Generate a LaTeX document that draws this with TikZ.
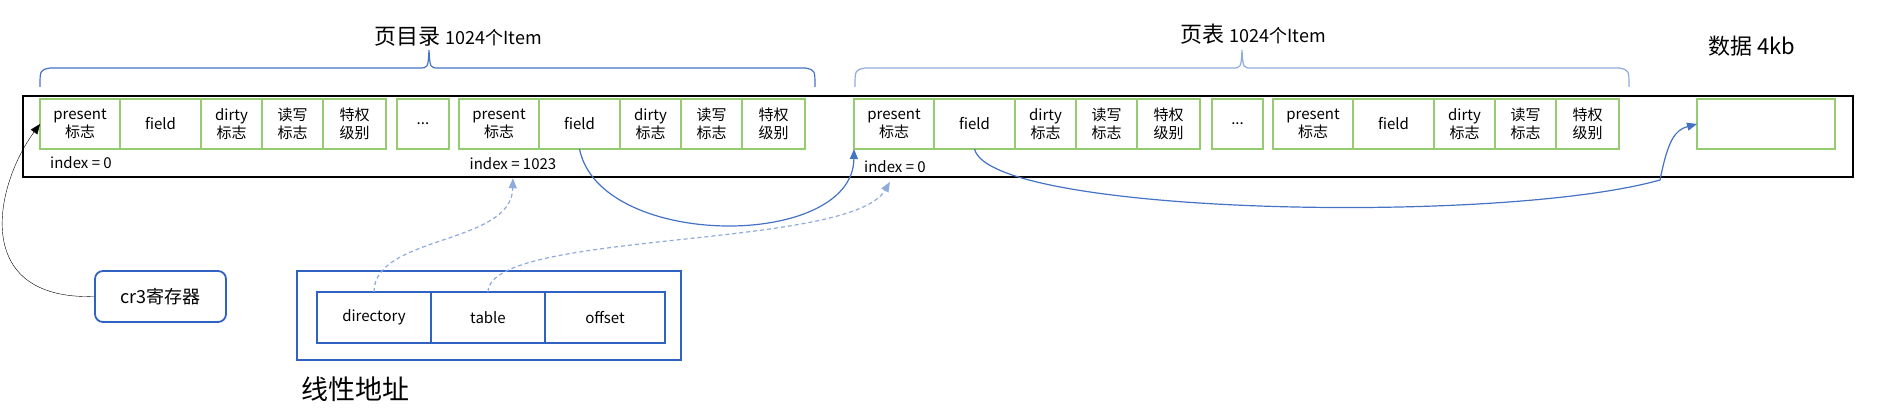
\documentclass[tikz,border=0pt]{standalone}
\usepackage{fontspec}
\setmainfont{Noto Sans CJK SC}
\usetikzlibrary{positioning}
\usetikzlibrary{arrows.meta}
\definecolor{cellgreen}{RGB}{150,204,112}
\definecolor{boxblue}{RGB}{47,98,194}
\definecolor{lineblue}{RGB}{68,114,196}
\definecolor{paleblue}{RGB}{143,170,220}

\begin{document}
\begin{tikzpicture}[x=1pt,y=-1pt,
  cell/.style={draw=cellgreen,line width=1.5pt,minimum height=50pt,inner sep=0pt,outer sep=0pt,align=center,font=\fontsize{15}{18}\selectfont},
  addr/.style={draw=boxblue,line width=1.8pt,minimum height=51pt,minimum width=114pt,inner sep=0pt,outer sep=0pt,font=\fontsize{15}{18}\selectfont},
  idx/.style={inner sep=0pt,font=\fontsize{15}{18}\selectfont},
  title/.style={inner sep=0pt,font=\fontsize{22}{26}\selectfont},
  tip/.style={-{Triangle[length=10pt,width=8pt]}},
  link/.style={tip,lineblue,line width=1.2pt},
  hint/.style={tip,paleblue,line width=1.2pt,dash pattern=on 4pt off 3pt}]
 \useasboundingbox (0,0) rectangle (1899,411);
 \draw[line width=2pt] (23,96) rectangle (1853,177);
 \foreach \g/\x in {a/40,b/459,c/854,d/1273}{
  \node[cell,minimum width=80pt,anchor=north west] (\g p) at (\x,99) {present\\标志};
  \node[cell,minimum width=81pt,right=0pt of \g p] (\g f) {field};
  \node[cell,minimum width=61pt,right=0pt of \g f] (\g d) {dirty\\标志};
  \node[cell,minimum width=61pt,right=0pt of \g d] (\g r) {读写\\标志};
  \node[cell,minimum width=63pt,right=0pt of \g r] (\g s) {特权\\级别};
 }
 \node[cell,minimum width=52pt,anchor=north west] (e1) at (397,99) {...};
 \node[cell,minimum width=51pt,anchor=north west] (e2) at (1212,99) {...};
 \node[cell,minimum width=138pt,anchor=north west] (data) at (1697,99) {};
 \node[idx] (ia) at (81,163) {index = 0};
 \node[idx] (ib) at (513,164) {index = 1023};
 \node[idx] (ic) at (895,167) {index = 0};
 \node[title] (t1) at (458,37) {页目录 {\fontsize{18}{22}\selectfont 1024个Item}};
 \node[title] (t2) at (1253,34) {页表 {\fontsize{18}{22}\selectfont 1024个Item}};
 \node[title] (t3) at (1752,46) {数据 4kb};
 \draw[lineblue,line width=1.2pt] (40,87) .. controls (40,70) .. (50,68) -- (419,68) .. controls (428,68) .. (429,50) .. controls (430,68) .. (439,68) -- (805,68) .. controls (815,70) .. (815,87);
 \draw[paleblue,line width=1.2pt] (855,87) .. controls (855,70) .. (865,68) -- (1232,68) .. controls (1241,68) .. (1242,50) .. controls (1243,68) .. (1252,68) -- (1619,68) .. controls (1629,70) .. (1629,87);
 \node[draw=boxblue,line width=1.8pt,rounded corners=8pt,minimum width=131pt,minimum height=51pt,font=\fontsize{18}{22}\selectfont] (cr3) at (160.5,296.5) {cr3寄存器};
 \node[draw=boxblue,line width=1.8pt,minimum width=384pt,minimum height=89pt] (la) at (489,315.5) {};
 \node[addr,anchor=north west] (dir) at (317,292) {directory};
 \node[addr,right=0pt of dir] (tab) {table};
 \node[addr,minimum width=120pt,right=0pt of tab] (off) {offset};
 \node[inner sep=0pt,font=\fontsize{27}{32}\selectfont] (lal) at (355,389) {线性地址};
 \draw[tip] (cr3.west) .. controls (-30,300) and (-5,185) .. (ap.west);
 \draw[link] (bf.south) .. controls (600,250) and (853,250) .. (cp.south west);
 \draw[link] (cf.south) .. controls (990,215) and (1500,225) .. (1660,180) .. controls (1668,140) and (1675,130) .. (data.west);
 \draw[hint,shorten >=8pt] (dir.north) .. controls (374,235) and (512,245) .. (ib.south);
 \draw[hint,shorten >=10pt] (tab.north) .. controls (489,230) and (850,250) .. (ic.south);
\end{tikzpicture}
\end{document}
